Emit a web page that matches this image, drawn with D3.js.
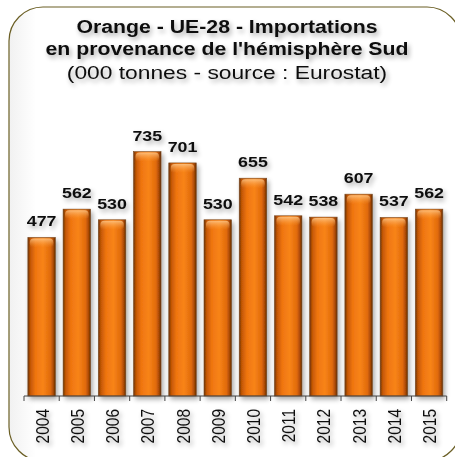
<!DOCTYPE html>
<html>
<head>
<meta charset="utf-8">
<script src="https://cdn.jsdelivr.net/npm/d3@7"></script>
<style>
  html, body { margin: 0; padding: 0; background: #ffffff; }
  svg { display: block; }
</style>
</head>
<body>
<script>
// Orange imports into the EU-28 from the southern hemisphere (000 tonnes)
const years = ["2004","2005","2006","2007","2008","2009","2010","2011","2012","2013","2014","2015"];
const volumes = [477, 562, 530, 735, 701, 530, 655, 542, 538, 607, 537, 562];
const titleLines = ["Orange - UE-28 - Importations", "en provenance de l'hémisphère Sud"];
const subtitle = "(000 tonnes - source : Eurostat)";

const W = 455, H = 457;
const FONT = "'Liberation Sans', Arial, sans-serif";
const STRETCH = 1.15;   // horizontal widening applied to all lettering

const svg = d3.select("body").append("svg").attr("width", W).attr("height", H);
const defs = svg.append("defs");

// soft drop shadow used on the text and the bars
const sh = defs.append("filter").attr("id", "shadow")
  .attr("x", "-30%").attr("y", "-30%").attr("width", "160%").attr("height", "160%");
sh.append("feGaussianBlur").attr("in", "SourceAlpha").attr("stdDeviation", 2.5).attr("result", "b");
sh.append("feOffset").attr("in", "b").attr("dx", 1.5).attr("dy", 2.5).attr("result", "o");
sh.append("feComponentTransfer").attr("in", "o").attr("result", "s")
  .append("feFuncA").attr("type", "linear").attr("slope", 0.35);
const m = sh.append("feMerge");
m.append("feMergeNode").attr("in", "s");
m.append("feMergeNode").attr("in", "SourceGraphic");

// frame shading
const fg = defs.append("linearGradient").attr("id", "frameGrad")
  .attr("x1", 0).attr("y1", 0).attr("x2", 1).attr("y2", 0);
fg.append("stop").attr("offset", "0%").attr("stop-color", "#f1f1f1");
fg.append("stop").attr("offset", "6%").attr("stop-color", "#ffffff");
fg.append("stop").attr("offset", "100%").attr("stop-color", "#ffffff");

// cylinder-like bar shading
const bg = defs.append("linearGradient").attr("id", "barGrad")
  .attr("x1", 0).attr("y1", 0).attr("x2", 1).attr("y2", 0);
[["0%", "#6a3208"], ["9%", "#c25605"], ["28%", "#ef7510"], ["55%", "#f88418"],
 ["82%", "#e06a0a"], ["93%", "#a84806"], ["100%", "#5e2c06"]]
  .forEach(([o, c]) => bg.append("stop").attr("offset", o).attr("stop-color", c));

const cg = defs.append("linearGradient").attr("id", "capGrad")
  .attr("x1", 0).attr("y1", 0).attr("x2", 0).attr("y2", 1);
cg.append("stop").attr("offset", "0%").attr("stop-color", "#ffd29a").attr("stop-opacity", 0.75);
cg.append("stop").attr("offset", "100%").attr("stop-color", "#ffa040").attr("stop-opacity", 0);

// frame
svg.append("rect")
  .attr("x", 9).attr("y", 7).attr("width", 452).attr("height", 454)
  .attr("rx", 34).attr("ry", 34)
  .attr("fill", "url(#frameGrad)")
  .attr("stroke", "#6b5f25").attr("stroke-width", 1.2);

// titles
const tg = svg.append("g").attr("filter", "url(#shadow)")
  .attr("font-family", FONT).attr("text-anchor", "middle").attr("fill", "#111");
tg.selectAll("text.title").data(titleLines).join("text")
  .attr("class", "title")
  .attr("transform", (d, i) => `translate(227,${33 + i * 21.5}) scale(${STRETCH},1)`)
  .attr("font-size", 18.5).attr("font-weight", 700)
  .text(d => d);
tg.append("text")
  .attr("transform", `translate(227,79) scale(1.2,1)`)
  .attr("font-size", 19)
  .text(subtitle);

// scales
const x = d3.scaleBand().domain(years).range([24, 446.7]).paddingInner(0.22).paddingOuter(0.11);
const y = d3.scaleLinear().domain([0, 800]).range([396, 130]);

// bars
const bars = svg.append("g").attr("filter", "url(#shadow)");
bars.selectAll("rect.bar").data(volumes).join("rect")
  .attr("class", "bar")
  .attr("x", (d, i) => x(years[i]))
  .attr("y", d => y(d))
  .attr("width", x.bandwidth())
  .attr("height", d => y(0) - y(d))
  .attr("fill", "url(#barGrad)")
  .attr("stroke", "#7a4a22").attr("stroke-width", 0.6);
bars.selectAll("rect.cap").data(volumes).join("rect")
  .attr("class", "cap")
  .attr("x", (d, i) => x(years[i]) + 2)
  .attr("y", d => y(d) + 1)
  .attr("width", x.bandwidth() - 4)
  .attr("height", 9)
  .attr("rx", 4)
  .attr("fill", "url(#capGrad)");

// value labels
svg.append("g").attr("filter", "url(#shadow)")
  .selectAll("text").data(volumes).join("text")
  .attr("transform", (d, i) =>
    `translate(${x(years[i]) + x.bandwidth() / 2},${y(d) - 11}) scale(${STRETCH},1)`)
  .attr("text-anchor", "middle")
  .attr("font-family", FONT)
  .attr("font-weight", 700).attr("font-size", 15.5)
  .attr("fill", "#111")
  .text(d => d);

// category axis: baseline with ticks on band boundaries, rotated year labels
const axis = svg.append("g");
axis.append("line")
  .attr("x1", x.range()[0]).attr("x2", x.range()[1])
  .attr("y1", y(0)).attr("y2", y(0))
  .attr("stroke", "#444").attr("stroke-width", 1);
const step = x.step();
const bounds = d3.range(years.length + 1).map(i => x.range()[0] + i * step);
axis.selectAll("line.tick").data(bounds).join("line")
  .attr("class", "tick")
  .attr("x1", d => d).attr("x2", d => d)
  .attr("y1", y(0)).attr("y2", y(0) + 5)
  .attr("stroke", "#444").attr("stroke-width", 1);
axis.append("g").attr("filter", "url(#shadow)")
  .selectAll("text").data(years).join("text")
  .attr("transform", d =>
    `translate(${x(d) + x.bandwidth() / 2 + 7},409) scale(${STRETCH},1) rotate(-90)`)
  .attr("text-anchor", "end")
  .attr("font-family", FONT)
  .attr("font-size", 15.5).attr("fill", "#111")
  .text(d => d);
</script>
</body>
</html>
